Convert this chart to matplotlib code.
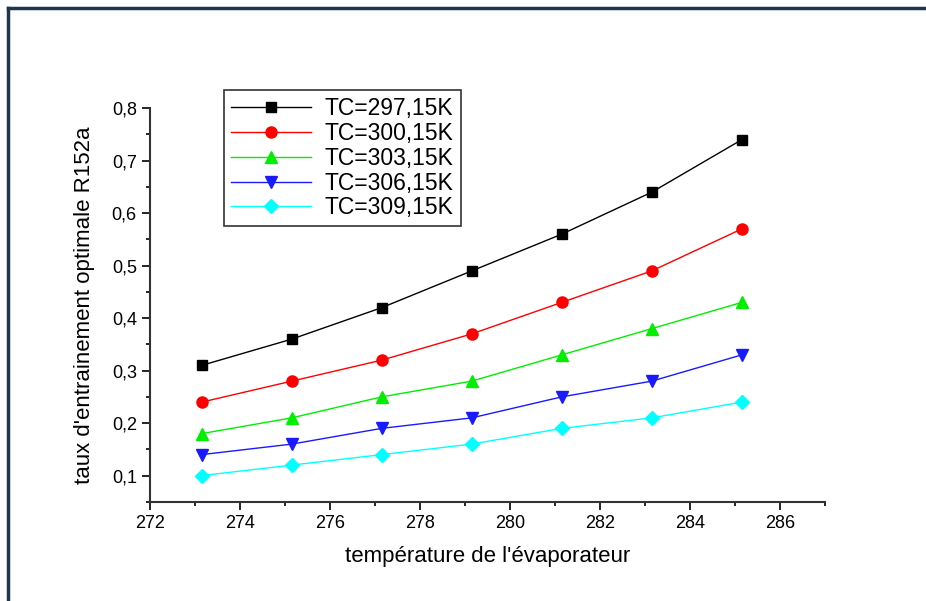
import numpy as np
import matplotlib
matplotlib.use('Agg')
import matplotlib.pyplot as plt
from matplotlib.lines import Line2D
from matplotlib.ticker import MultipleLocator, FuncFormatter

plt.rcParams['font.family'] = ['Liberation Sans', 'DejaVu Sans']

# data
t_evap = [273.15, 275.15, 277.15, 279.15, 281.15, 283.15, 285.15]
tc_297 = [0.31, 0.36, 0.42, 0.49, 0.56, 0.64, 0.74]
tc_300 = [0.24, 0.28, 0.32, 0.37, 0.43, 0.49, 0.57]
tc_303 = [0.18, 0.21, 0.25, 0.28, 0.33, 0.38, 0.43]
tc_306 = [0.14, 0.16, 0.19, 0.21, 0.25, 0.28, 0.33]
tc_309 = [0.10, 0.12, 0.14, 0.16, 0.19, 0.21, 0.24]
labels = ['TC=297,15K', 'TC=300,15K', 'TC=303,15K', 'TC=306,15K', 'TC=309,15K']

series = [tc_297, tc_300, tc_303, tc_306, tc_309]
colors = ['black', 'red', '#00ee00', '#1a1aff', 'cyan']
markers = ['s', 'o', '^', 'v', 'D']
msizes = [7, 8, 8, 8, 7]

fig = plt.figure(figsize=(9.26, 6.01), dpi=100)
ax = fig.add_axes([0.162, 0.165, 0.729, 0.655])

for y, c, m, ms, lab in zip(series, colors, markers, msizes, labels):
    ax.plot(t_evap, y, color=c, marker=m, markersize=ms, linewidth=1, label=lab)

ax.set_xlim(272, 287)
ax.set_ylim(0.05, 0.8)
ax.xaxis.set_major_locator(MultipleLocator(2))
ax.xaxis.set_minor_locator(MultipleLocator(1))
ax.yaxis.set_major_locator(MultipleLocator(0.1))
ax.yaxis.set_minor_locator(MultipleLocator(0.05))
ax.yaxis.set_major_formatter(FuncFormatter(lambda v, p: f'{v:.1f}'.replace('.', ',')))
ax.tick_params(which='major', direction='out', length=6, width=1.2, labelsize=13)
ax.tick_params(which='minor', direction='out', length=3, width=1.2)
ax.spines['top'].set_visible(False)
ax.spines['right'].set_visible(False)
for s in ['left', 'bottom']:
    ax.spines[s].set_linewidth(1.5)
    ax.spines[s].set_color('#333333')

ax.set_xlabel("température de l'évaporateur", fontsize=16, labelpad=10)
ax.set_ylabel("taux d'entrainement optimale R152a", fontsize=16, labelpad=12)

leg = fig.legend(loc='upper left', bbox_to_anchor=(0.242, 0.850), fontsize=16.5,
                 frameon=True, fancybox=False, edgecolor='black', borderaxespad=0,
                 borderpad=0.3, labelspacing=0.08, handlelength=3.5, handletextpad=0.6)
leg.get_frame().set_linewidth(1.2)

# page frame (left and top edges)
fig.add_artist(Line2D([0.009, 0.009], [0, 0.987], color='#1f3550', linewidth=2.5, transform=fig.transFigure))
fig.add_artist(Line2D([0.009, 1.0], [0.987, 0.987], color='#1f3550', linewidth=2.5, transform=fig.transFigure))

fig.savefig('out.png', dpi=100)
